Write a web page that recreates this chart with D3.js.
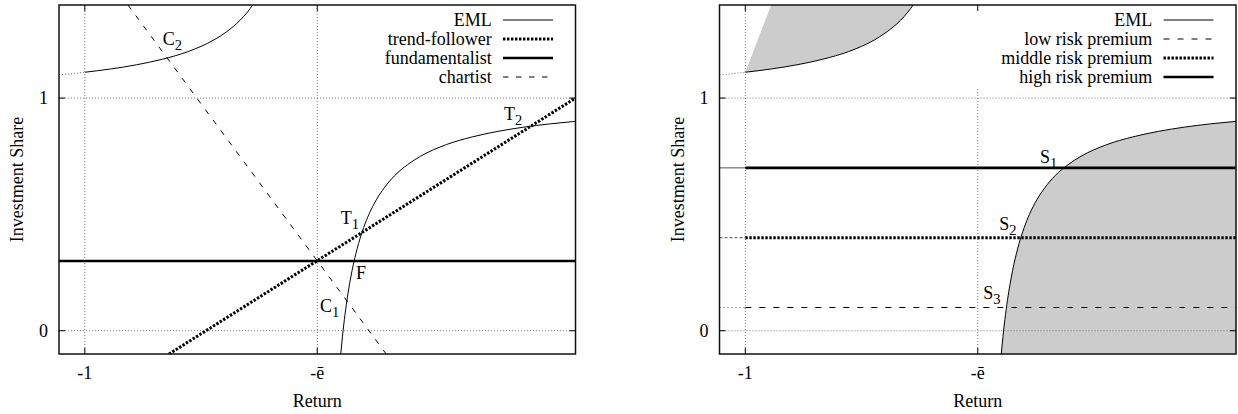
<!DOCTYPE html>
<html><head><meta charset="utf-8">
<script src="https://cdn.jsdelivr.net/npm/d3@7"></script>
<style>body{margin:0;background:#fff} svg text{font-family:"Liberation Serif","Times New Roman",serif;fill:#000}</style>
</head><body><svg id="c" width="1238" height="414"></svg>
<script>
// ---------- data ----------
const xDomain = [-1.1, 0.9];
const yDomain = [-0.1, 1.4];
const xTicks = [-1, -0.1];
const xTickLabels = ["-1", "-ē"];
const yTicks = [0, 1];
const yTickLabels = ["0", "1"];
const xTitle = "Return";
const yTitle = "Investment Share";

// EML, part left of -1 (drawn dotted)
const emlOuterX = [-1.1, -1.05, -1.0];
const emlOuterY = [1.100, 1.105, 1.111];
// EML upper-left branch
const emlUpperX = [-1.0, -0.9, -0.8, -0.7, -0.6, -0.5, -0.45, -0.4, -0.37, -0.35];
const emlUpperY = [1.111, 1.125, 1.143, 1.167, 1.200, 1.250, 1.286, 1.333, 1.370, 1.400];
// EML lower-right branch
const emlLowerX = [-0.009, 0.0, 0.01, 0.02, 0.03, 0.04, 0.05, 0.06, 0.08, 0.10, 0.13, 0.16, 0.20, 0.25, 0.30, 0.40, 0.50, 0.60, 0.70, 0.80, 0.90];
const emlLowerY = [-0.100, 0.000, 0.091, 0.167, 0.231, 0.286, 0.333, 0.375, 0.444, 0.500, 0.565, 0.615, 0.667, 0.714, 0.750, 0.800, 0.833, 0.857, 0.875, 0.889, 0.900];

// left panel lines
const fundamentalistShare = 0.3;
const trendX = [-0.674, 0.9];
const trendY = [-0.1, 1.0];
const chartistX = [-0.833, 0.167];
const chartistY = [1.4, -0.1];

// right panel lines
const riskNames = ["low risk premium", "middle risk premium", "high risk premium"];
const riskShares = [0.1, 0.4, 0.7];
// corner of the upper shaded region on the top border
const upperShadeCornerX = -0.9;

const leftLegend = ["EML", "trend-follower", "fundamentalist", "chartist"];
const rightLegend = ["EML", "low risk premium", "middle risk premium", "high risk premium"];

const leftLabels = [
  {t: "C", s: "2", x: -0.698, y: 1.228},
  {t: "T", s: "1", x: -0.009, y: 0.459},
  {t: "F", s: "",  x: 0.050,  y: 0.222},
  {t: "C", s: "1", x: -0.089, y: 0.080},
  {t: "T", s: "2", x: 0.623,  y: 0.906}
];
const rightLabels = [
  {t: "S", s: "1", x: 0.141,  y: 0.721},
  {t: "S", s: "2", x: -0.017, y: 0.433},
  {t: "S", s: "3", x: -0.079, y: 0.135}
];

// ---------- drawing ----------
const svg = d3.select("#c");
const FS = 18;
const styles = {
  eml:   {w: 1,   dash: null},
  trend: {w: 3,   dash: "2.4,1.6"},
  fund:  {w: 2.6, dash: null},
  chart: {w: 1,   dash: "5.5,7.5"},
  low:   {w: 1.1, dash: "6,8"},
  mid:   {w: 3,   dash: "2.4,1.6"},
  high:  {w: 2.6, dash: null}
};
const zip = (xs, ys) => xs.map((x, i) => [x, ys[i]]);

function panel(ox, id, kind) {
  const L = ox + 59, R = ox + 575.5, T = 5, B = 354;
  const x = d3.scaleLinear().domain(xDomain).range([L, R]);
  const y = d3.scaleLinear().domain(yDomain).range([B, T]);
  const g = svg.append("g");
  g.append("clipPath").attr("id", id).append("rect")
    .attr("x", L).attr("y", T).attr("width", R - L).attr("height", B - T);
  const p = g.append("g").attr("clip-path", `url(#${id})`);
  const line = d3.line().x(d => x(d[0])).y(d => y(d[1])).curve(d3.curveMonotoneX);

  function path(data, st, color) {
    const el = p.append("path").attr("d", line(data)).attr("fill", "none")
      .attr("stroke", color || "#000").attr("stroke-width", st.w);
    if (st.dash) el.attr("stroke-dasharray", st.dash);
    return el;
  }

  if (kind === "right") {
    const up = zip(emlUpperX, emlUpperY);
    p.append("path").attr("fill", "#cccccc")
      .attr("d", line(up) + `L${x(upperShadeCornerX)},${y(yDomain[1])}Z`);
    const area = d3.area().x(d => x(d[0])).y1(d => y(d[1])).y0(y(yDomain[0])).curve(d3.curveMonotoneX);
    p.append("path").attr("fill", "#cccccc").attr("d", area(zip(emlLowerX, emlLowerY)));
  }

  // grid
  xTicks.forEach(v => p.append("line").attr("x1", x(v)).attr("x2", x(v)).attr("y1", T).attr("y2", B)
    .attr("stroke", "#777").attr("stroke-width", 1).attr("stroke-dasharray", "1,2"));
  yTicks.forEach(v => p.append("line").attr("x1", L).attr("x2", R).attr("y1", y(v)).attr("y2", y(v))
    .attr("stroke", "#777").attr("stroke-width", 1).attr("stroke-dasharray", "1,2"));

  // EML
  path(zip(emlOuterX, emlOuterY), {w: 1, dash: "1,2"}, "#666");
  path(zip(emlUpperX, emlUpperY), styles.eml);
  path(zip(emlLowerX, emlLowerY), styles.eml);

  if (kind === "left") {
    path([[xDomain[0], fundamentalistShare], [xDomain[1], fundamentalistShare]], styles.fund);
    path(zip(trendX, trendY), styles.trend);
    path(zip(chartistX, chartistY), styles.chart);
  } else {
    const st = [styles.low, styles.mid, styles.high];
    const thin = [{w: 1, dash: "1,3"}, {w: 1, dash: "3,2"}, {w: 1, dash: null}];
    riskShares.forEach((v, i) => {
      path([[xDomain[0], v], [-1, v]], thin[i], "#555");
      path([[-1, v], [xDomain[1], v]], st[i]);
    });
  }

  // legend
  const names = kind === "left" ? leftLegend : rightLegend;
  const lst = kind === "left" ? [styles.eml, styles.trend, styles.fund, styles.chart]
                              : [styles.eml, styles.low, styles.mid, styles.high];
  const textRight = ox + 491.7, s0 = ox + 503, s1 = ox + 553;
  if (kind === "right") {
    g.append("rect").attr("x", ox + 310).attr("y", T + 1).attr("width", R - ox - 311).attr("height", 82).attr("fill", "#fff");
  }
  names.forEach((n, i) => {
    const cy = 20 + i * 19;
    g.append("text").attr("x", textRight).attr("y", cy + 6).attr("text-anchor", "end")
      .attr("font-size", FS).text(n);
    const l = g.append("line").attr("x1", s0).attr("x2", s1).attr("y1", cy).attr("y2", cy)
      .attr("stroke", "#000").attr("stroke-width", lst[i].w);
    if (lst[i].dash) l.attr("stroke-dasharray", lst[i].dash);
  });

  // point labels
  const labs = kind === "left" ? leftLabels : rightLabels;
  labs.forEach(d => {
    const t = g.append("text").attr("x", x(d.x)).attr("y", y(d.y)).attr("font-size", FS);
    t.append("tspan").text(d.t);
    if (d.s) t.append("tspan").attr("dy", 5).attr("font-size", 14.5).text(d.s);
  });

  // border
  g.append("rect").attr("x", L).attr("y", T).attr("width", R - L).attr("height", B - T)
    .attr("fill", "none").attr("stroke", "#111").attr("stroke-width", 1.5);
  // ticks (inward, mirrored)
  xTicks.forEach(v => {
    g.append("line").attr("x1", x(v)).attr("x2", x(v)).attr("y1", B).attr("y2", B - 6).attr("stroke", "#000");
    g.append("line").attr("x1", x(v)).attr("x2", x(v)).attr("y1", T).attr("y2", T + 6).attr("stroke", "#000");
  });
  yTicks.forEach(v => {
    g.append("line").attr("x1", L).attr("x2", L + 6).attr("y1", y(v)).attr("y2", y(v)).attr("stroke", "#000");
    g.append("line").attr("x1", R).attr("x2", R - 6).attr("y1", y(v)).attr("y2", y(v)).attr("stroke", "#000");
  });
  // tick labels
  xTicks.forEach((v, i) => g.append("text").attr("x", x(v)).attr("y", 379).attr("text-anchor", "middle")
    .attr("font-size", FS).text(xTickLabels[i]));
  yTicks.forEach((v, i) => g.append("text").attr("x", L - 11).attr("y", y(v) + 6).attr("text-anchor", "end")
    .attr("font-size", FS).text(yTickLabels[i]));
  // titles
  g.append("text").attr("x", (L + R) / 2).attr("y", 407).attr("text-anchor", "middle")
    .attr("font-size", FS).text(xTitle);
  g.append("text").attr("transform", `translate(${ox + 23},${(T + B) / 2}) rotate(-90)`)
    .attr("text-anchor", "middle").attr("font-size", FS).text(yTitle);
}

panel(0, "clipL", "left");
panel(660.5, "clipR", "right");
</script></body></html>
